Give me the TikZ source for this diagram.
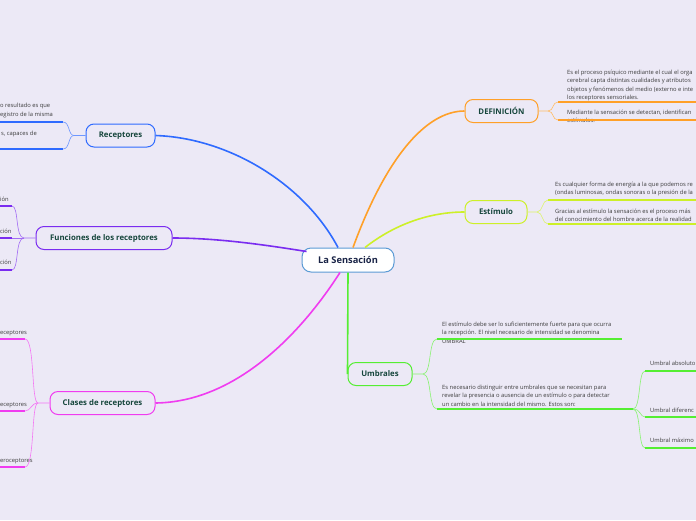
\documentclass[tikz,border=0pt]{standalone}
\usepackage{fontspec}
\setmainfont{Open Sans}
\usetikzlibrary{positioning,calc}
\definecolor{bg}{RGB}{236,233,246}
\definecolor{cblue}{RGB}{47,107,255}
\definecolor{cpurple}{RGB}{122,44,240}
\definecolor{cmag}{RGB}{240,60,240}
\definecolor{corange}{RGB}{255,160,40}
\definecolor{cyel}{RGB}{205,240,40}
\definecolor{cgreen}{RGB}{85,238,51}
\definecolor{ccenter}{RGB}{91,155,213}
\definecolor{ctext}{RGB}{22,70,60}
\definecolor{cnavy}{RGB}{25,35,70}
\definecolor{cnote}{RGB}{60,60,60}

\tikzset{
 topic/.style={draw=#1, line width=1pt, rounded corners=8pt, fill=bg, font=\fontsize{7.8}{9}\selectfont\bfseries, text=ctext, minimum height=23pt, inner sep=0pt},
 note/.style={font=\fontsize{5.8}{8.5}\selectfont, text=cnote, align=left, inner sep=0pt, anchor=north west},
 under/.style={draw=#1, line width=1.6pt},
 twig/.style={draw=#1!70, line width=0.6pt},
 limb/.style={draw=#1, line width=1.6pt},
}

\begin{document}
\begin{tikzpicture}[x=1pt,y=-1pt]
\fill[bg] (0,0) rectangle (696,520);
\useasboundingbox (0,0) rectangle (696,520);
\clip (0,0) rectangle (696,520);

\node[draw=ccenter, line width=1pt, rounded corners=9pt, fill=white, font=\fontsize{9.3}{10}\selectfont\bfseries, text=cnavy, minimum width=92pt, minimum height=24pt, inner sep=0pt] (ctr) at (348,260) {La Sensación};

\node[topic=cblue, minimum width=69pt] (rec) at (120.5,135.5) {Receptores};
\node[topic=cpurple, minimum width=136pt] (fun) at (104,238) {Funciones de los receptores};
\node[topic=cmag, minimum width=105pt] (cla) at (102.5,403) {Clases de receptores};
\node[topic=corange, minimum width=73pt] (def) at (501.5,111) {DEFINICIÓN};
\node[topic=cyel, minimum width=62pt] (est) at (496,212) {Estímulo};
\node[topic=cgreen, minimum width=64pt] (umb) at (380,374) {Umbrales};

\draw[limb=cblue] ($(ctr.north)+(-10,0)$) .. controls (305,185) and (230,138) .. (rec.east);
\draw[limb=cpurple] ($(ctr.north west)+(5,4)$) .. controls (260,244) and (215,238) .. (fun.east);
\draw[limb=cmag] ($(ctr.south)+(-8,0)$) .. controls (300,335) and (235,402) .. (cla.east);
\draw[limb=cgreen] (ctr.south) -- (umb.west);
\draw[limb=corange] ($(ctr.north)+(5,0)$) .. controls (385,160) and (425,111) .. (def.west);
\draw[limb=cyel] ($(ctr.north)+(17,0)$) .. controls (395,224) and (430,212) .. (est.west);

% Receptores
\node[note] (r1) at (0,103) {o resultado es que\\egistro de la misma};
\node[note] (r2) at (1,131) {s, capaces de};
\coordinate (r1b) at (63,122);
\coordinate (r2b) at (63,149);
\draw[under=cblue] (0,122) -- (r1b);
\draw[under=cblue] (0,149) -- (r2b);
\draw[twig=cblue] (rec.west) -- (74,135.5) .. controls (68,135.5) and (70,122) .. (r1b);
\draw[twig=cblue] (74,135.5) .. controls (68,135.5) and (70,149) .. (r2b);

% Funciones
\node[note] (f1) at (0,197) {ión};
\node[note] (f2) at (0,229) {ción};
\node[note] (f3) at (0,260) {ción};
\coordinate (f1b) at (12,206);
\coordinate (f2b) at (12,238);
\coordinate (f3b) at (12,270);
\draw[under=cpurple] (0,206) -- (f1b);
\draw[under=cpurple] (0,238) -- (f2b);
\draw[under=cpurple] (0,270) -- (f3b);
\draw[twig=cpurple] (fun.west) -- (24,238) .. controls (15,238) and (19,206) .. (f1b);
\draw[twig=cpurple] (24,238) -- (f2b);
\draw[twig=cpurple] (24,238) .. controls (15,238) and (19,270) .. (f3b);

% Clases
\node[note] (c1) at (0,330) {eceptores};
\node[note] (c2) at (0,402) {eceptores};
\node[note] (c3) at (0,458) {eroceptores};
\coordinate (c1b) at (25,339);
\coordinate (c2b) at (25,411);
\coordinate (c3b) at (25,467);
\draw[under=cmag] (0,339) -- (c1b);
\draw[under=cmag] (0,411) -- (c2b);
\draw[under=cmag] (0,467) -- (c3b);
\draw[twig=cmag] (cla.west) -- (38,403) .. controls (31,403) and (35,339) .. (c1b);
\draw[twig=cmag] (38,403) .. controls (31,403) and (31,411) .. (c2b);
\draw[twig=cmag] (38,403) .. controls (31,403) and (35,467) .. (c3b);

% Definicion
\node[note] (d1) at (567,69.5) {Es el proceso psíquico mediante el cual el orga\\cerebral capta distintas cualidades y atributos\\objetos y fenómenos del medio (externo e inte\\los receptores sensoriales.};
\node[note] (d2) at (567,109.5) {Mediante la sensación se detectan, identifican\\estímulos.};
\coordinate (d1a) at (558,102);
\coordinate (d2a) at (558,120);
\draw[under=corange] (d1a) -- (696,102);
\draw[under=corange] (d2a) -- (696,120);
\draw[twig=corange] (def.east) -- (548,111) .. controls (554,111) and (552,102) .. (d1a);
\draw[twig=corange] (548,111) .. controls (554,111) and (552,120) .. (d2a);

% Estimulo
\node[note] (e1) at (555,181.5) {Es cualquier forma de energía a la que podemos re\\(ondas luminosas, ondas sonoras o la presión de la};
\node[note] (e2) at (555,208.5) {Gracias al estímulo la sensación es el proceso más\\del conocimiento del hombre acerca de la realidad};
\coordinate (e1a) at (548,200);
\coordinate (e2a) at (548,224);
\draw[under=cyel] (e1a) -- (696,200);
\draw[under=cyel] (e2a) -- (696,224);
\draw[twig=cyel] (est.east) -- (537,212) .. controls (543,212) and (542,200) .. (e1a);
\draw[twig=cyel] (537,212) .. controls (543,212) and (542,224) .. (e2a);

% Umbrales
\node[note] (u1) at (442,321.5) {El estímulo debe ser lo suficientemente fuerte para que ocurra\\la recepción. El nivel necesario de intensidad se denomina\\UMBRAL};
\node[note] (u2) at (442,384.5) {Es necesario distinguir entre umbrales que se necesitan para\\revelar la presencia o ausencia de un estímulo o para detectar\\un cambio en la intensidad del mismo. Estos son:};
\coordinate (u1a) at (437,339);
\coordinate (u2a) at (437,409);
\coordinate (u2b) at (633,409);
\draw[under=cgreen] (u1a) -- (622,339);
\draw[under=cgreen] (u2a) -- (u2b);
\draw[twig=cgreen] (umb.east) -- (423,374) .. controls (432,374) and (428,339) .. (u1a);
\draw[twig=cgreen] (423,374) .. controls (432,374) and (428,409) .. (u2a);

\node[note] (s1) at (650,360.5) {Umbral absoluto};
\node[note] (s2) at (650,407.5) {Umbral diferenc};
\node[note] (s3) at (650,437.5) {Umbral máximo};
\coordinate (s1a) at (645,371);
\coordinate (s2a) at (645,417);
\coordinate (s3a) at (645,448);
\draw[under=cgreen] (s1a) -- (696,371);
\draw[under=cgreen] (s2a) -- (696,417);
\draw[under=cgreen] (s3a) -- (696,448);
\draw[twig=cgreen] (u2b) .. controls (641,409) and (638,371) .. (s1a);
\draw[twig=cgreen] (u2b) .. controls (641,409) and (640,417) .. (s2a);
\draw[twig=cgreen] (u2b) .. controls (641,409) and (638,448) .. (s3a);
\end{tikzpicture}
\end{document}
